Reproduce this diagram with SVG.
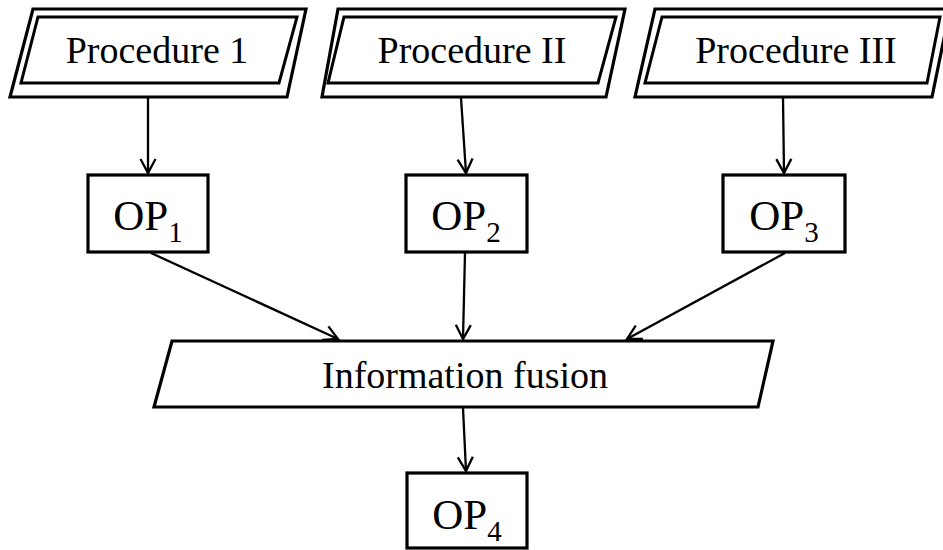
<svg xmlns="http://www.w3.org/2000/svg" width="943" height="550" viewBox="0 0 943 550">
<style>
.box{fill:#fff;stroke:#000;stroke-width:3.2;stroke-linejoin:miter}
.inner{fill:none;stroke:#000;stroke-width:3}
.lbl{font-family:"Liberation Serif","Times New Roman",serif;fill:#000;text-anchor:middle}
.proc{font-size:38px}
.op{font-size:43px}
.sub{font-size:29px}
.conn{stroke:#000;stroke-width:2.3;fill:none;marker-end:url(#arr)}
</style>
<defs>
<marker id="arr" markerUnits="userSpaceOnUse" markerWidth="20" markerHeight="20" refX="15" refY="9" orient="auto">
<path d="M1,1.5 L15,9 L1,16.5" fill="none" stroke="#000" stroke-width="2.3"/>
</marker>
</defs>
<rect width="943" height="550" fill="#fff"/>
<g id="proc1">
<polygon class="box" points="33,9 306,9 287,97 10,97"/>
<polygon class="inner" points="38,17 297,17 279,83 21,83"/>
<text class="lbl proc" x="157" y="63">Procedure 1</text>
</g>
<g id="proc2">
<polygon class="box" points="338,9 625,9 606,97 322,97"/>
<polygon class="inner" points="344,17 616,17 598,83 328,83"/>
<text class="lbl proc" x="472" y="63">Procedure II</text>
</g>
<g id="proc3">
<polygon class="box" points="655,9 950,9 932,97 635,97"/>
<polygon class="inner" points="662,17 940,17 927,83 645,83"/>
<text class="lbl proc" x="796" y="63">Procedure III</text>
</g>
<g id="op1">
<rect class="box" x="88" y="175" width="120" height="77"/>
<text class="lbl op" x="148" y="230">OP<tspan class="sub" dy="12">1</tspan></text>
</g>
<g id="op2">
<rect class="box" x="406" y="175" width="121" height="77"/>
<text class="lbl op" x="466" y="230">OP<tspan class="sub" dy="12">2</tspan></text>
</g>
<g id="op3">
<rect class="box" x="723" y="175" width="122" height="77"/>
<text class="lbl op" x="784" y="230">OP<tspan class="sub" dy="12">3</tspan></text>
</g>
<g id="fusion">
<polygon class="box" points="172,341 773,341 758,407 154,407"/>
<text class="lbl proc" x="465" y="388">Information fusion</text>
</g>
<g id="op4">
<rect class="box" x="407" y="473" width="120" height="75"/>
<text class="lbl op" x="467" y="529">OP<tspan class="sub" dy="12">4</tspan></text>
</g>
<g id="connectors">
<line class="conn" x1="148" y1="98" x2="148" y2="173"/>
<line class="conn" x1="461" y1="98" x2="466" y2="173"/>
<line class="conn" x1="783" y1="98" x2="784" y2="173"/>
<line class="conn" x1="151" y1="253" x2="338" y2="339"/>
<line class="conn" x1="465" y1="253" x2="463" y2="339"/>
<line class="conn" x1="785" y1="253" x2="627" y2="339"/>
<line class="conn" x1="463" y1="408" x2="466" y2="471"/>
</g>
</svg>
